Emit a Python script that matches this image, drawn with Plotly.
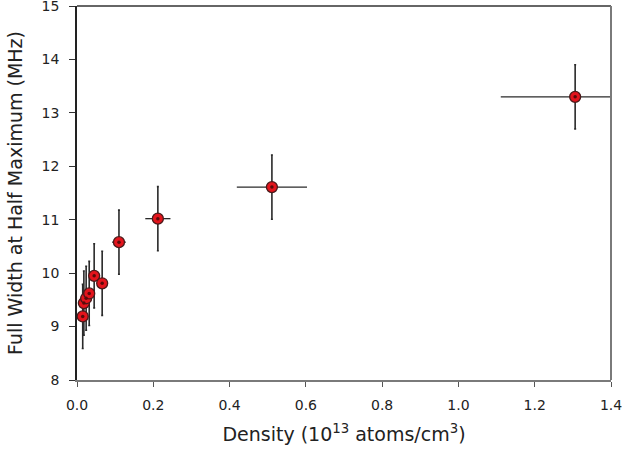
import plotly.graph_objects as go

density = [0.015, 0.018, 0.024, 0.032, 0.045, 0.066, 0.110, 0.212, 0.511, 1.306]
fwhm = [9.19, 9.44, 9.53, 9.62, 9.95, 9.81, 10.58, 11.02, 11.61, 13.30]
fwhm_err = [0.6, 0.6, 0.6, 0.6, 0.6, 0.6, 0.6, 0.6, 0.6, 0.6]
density_err = [0.002, 0.003, 0.004, 0.005, 0.007, 0.010, 0.018, 0.033, 0.092, 0.195]

x_ticks = [0.0, 0.2, 0.4, 0.6, 0.8, 1.0, 1.2, 1.4]
x_ticklabels = ["0.0", "0.2", "0.4", "0.6", "0.8", "1.0", "1.2", "1.4"]
y_ticks = [8, 9, 10, 11, 12, 13, 14, 15]

font_family = "DejaVu Sans, Arial, sans-serif"

fig = go.Figure()
fig.add_trace(go.Scatter(
    x=density, y=fwhm, mode="markers",
    error_y=dict(type="data", array=fwhm_err, color="#2a2a2a", thickness=1.6, width=1),
    error_x=dict(type="data", array=density_err, color="#2a2a2a", thickness=1.3, width=0),
    marker=dict(symbol="circle", size=11, color="#e3141c",
                line=dict(color="#4a1a1a", width=1.3)),
    showlegend=False,
))
fig.add_trace(go.Scatter(
    x=density, y=fwhm, mode="markers",
    marker=dict(symbol="circle", size=3.5, color="#5a0a0a", line=dict(width=0)),
    showlegend=False, hoverinfo="skip",
))

fig.update_layout(
    width=622, height=460,
    margin=dict(l=77, r=11, t=6, b=80),
    paper_bgcolor="white", plot_bgcolor="white",
    font=dict(family=font_family, color="#222"),
    xaxis=dict(
        range=[0, 1.4], tickvals=x_ticks, ticktext=x_ticklabels,
        showgrid=False, zeroline=False, automargin=False,
        showline=True, linecolor="#7a7a7a", linewidth=1.5,
        ticks="outside", ticklen=5, tickcolor="#555", tickwidth=1,
        tickfont=dict(size=14, color="#222"),
        ticklabelstandoff=6, ticklabeloverflow="allow",
        title=dict(text="Density (10<sup>13</sup> atoms/cm<sup>3</sup>)",
                   font=dict(size=19, color="#222"), standoff=16),
    ),
    yaxis=dict(
        range=[8, 15], tickvals=y_ticks,
        showgrid=False, zeroline=False, automargin=False,
        showline=True, linecolor="#222", linewidth=1.5,
        ticks="outside", ticklen=6, tickcolor="#333", tickwidth=1,
        tickfont=dict(size=14, color="#222"),
        ticklabelstandoff=7, ticklabeloverflow="allow",
        title=dict(text="Full Width at Half Maximum (MHz)",
                   font=dict(size=19, color="#222"), standoff=14),
    ),
    shapes=[
        dict(type="line", xref="paper", yref="paper", x0=0, x1=1, y0=1, y1=1,
             line=dict(color="#333", width=1.5)),
        dict(type="line", xref="paper", yref="paper", x0=1, x1=1, y0=0, y1=1,
             line=dict(color="#7a7a7a", width=2)),
    ],
)

fig.write_html("out.html")
